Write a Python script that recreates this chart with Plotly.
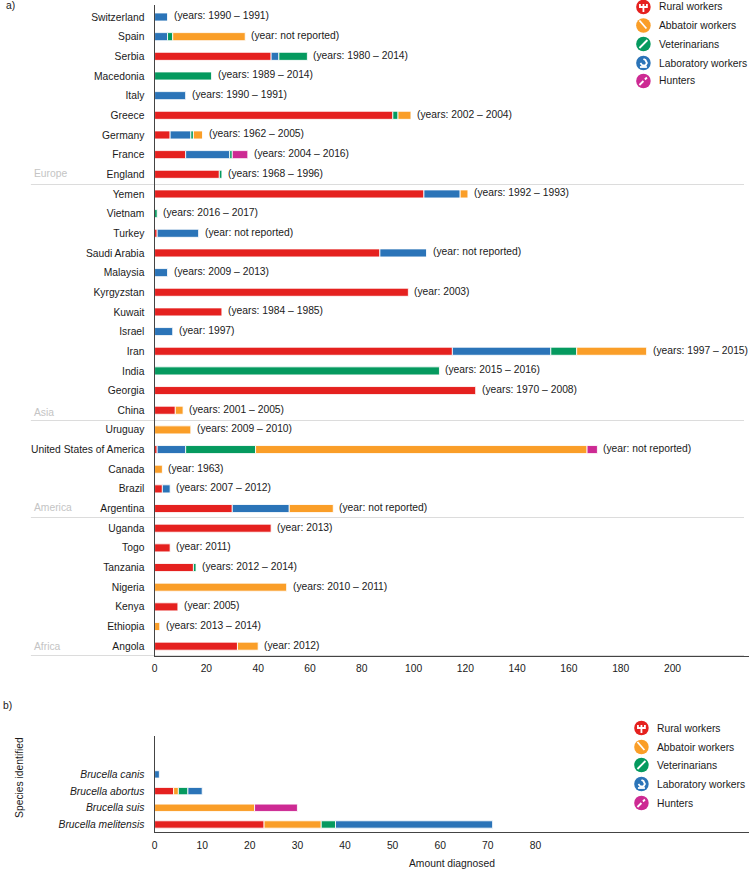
import plotly.graph_objects as go

W, H = 749, 870
FONT = "Liberation Sans"
TXT = "#1a1a1a"
FS = 10.3

series_names = ["Rural workers", "Abbatoir workers", "Veterinarians", "Laboratory workers", "Hunters"]
colors = {"Rural workers": "#e5211f", "Abbatoir workers": "#fa9e28", "Veterinarians": "#059a5f",
          "Laboratory workers": "#2b74b8", "Hunters": "#cd2a93"}

# Panel a, bottom to top
countries = ["Angola", "Ethiopia", "Kenya", "Nigeria", "Tanzania", "Togo", "Uganda",
             "Argentina", "Brazil", "Canada", "United States of America", "Uruguay",
             "China", "Georgia", "India", "Iran", "Israel", "Kuwait", "Kyrgyzstan", "Malaysia",
             "Saudi Arabia", "Turkey", "Vietnam", "Yemen",
             "England", "France", "Germany", "Greece", "Italy", "Macedonia", "Serbia", "Spain", "Switzerland"]
periods = ["(year: 2012)", "(years: 2013 – 2014)", "(year: 2005)", "(years: 2010 – 2011)", "(years: 2012 – 2014)",
           "(year: 2011)", "(year: 2013)",
           "(year: not reported)", "(years: 2007 – 2012)", "(year: 1963)", "(year: not reported)", "(years: 2009 – 2010)",
           "(years: 2001 – 2005)", "(years: 1970 – 2008)", "(years: 2015 – 2016)", "(years: 1997 – 2015)", "(year: 1997)",
           "(years: 1984 – 1985)", "(year: 2003)", "(years: 2009 – 2013)", "(year: not reported)", "(year: not reported)",
           "(years: 2016 – 2017)", "(years: 1992 – 1993)",
           "(years: 1968 – 1996)", "(years: 2004 – 2016)", "(years: 1962 – 2005)", "(years: 2002 – 2004)",
           "(years: 1990 – 1991)", "(years: 1989 – 2014)", "(years: 1980 – 2014)", "(year: not reported)", "(years: 1990 – 1991)"]
# Order of the segments differs by country, so each one lists (series, value)
segments_a = [
    [("Rural workers", 32), ("Abbatoir workers", 8)],
    [("Abbatoir workers", 2)],
    [("Rural workers", 9)],
    [("Abbatoir workers", 51)],
    [("Rural workers", 15), ("Veterinarians", 1)],
    [("Rural workers", 6)],
    [("Rural workers", 45)],
    [("Rural workers", 30), ("Laboratory workers", 22), ("Abbatoir workers", 17)],
    [("Rural workers", 3), ("Laboratory workers", 3)],
    [("Abbatoir workers", 3)],
    [("Rural workers", 1), ("Laboratory workers", 11), ("Veterinarians", 27), ("Abbatoir workers", 128), ("Hunters", 4)],
    [("Abbatoir workers", 14)],
    [("Rural workers", 8), ("Abbatoir workers", 3)],
    [("Rural workers", 124)],
    [("Veterinarians", 110)],
    [("Rural workers", 115), ("Laboratory workers", 38), ("Veterinarians", 10), ("Abbatoir workers", 27)],
    [("Laboratory workers", 7)],
    [("Rural workers", 26)],
    [("Rural workers", 98)],
    [("Laboratory workers", 5)],
    [("Rural workers", 87), ("Laboratory workers", 18)],
    [("Rural workers", 1), ("Laboratory workers", 16)],
    [("Veterinarians", 1)],
    [("Rural workers", 104), ("Laboratory workers", 14), ("Abbatoir workers", 3)],
    [("Rural workers", 25), ("Veterinarians", 1)],
    [("Rural workers", 12), ("Laboratory workers", 17), ("Veterinarians", 1), ("Hunters", 6)],
    [("Rural workers", 6), ("Laboratory workers", 8), ("Veterinarians", 1), ("Abbatoir workers", 3.5)],
    [("Rural workers", 92), ("Veterinarians", 2), ("Abbatoir workers", 5)],
    [("Laboratory workers", 12)],
    [("Veterinarians", 22)],
    [("Rural workers", 45), ("Laboratory workers", 3), ("Veterinarians", 11)],
    [("Laboratory workers", 5), ("Veterinarians", 2), ("Abbatoir workers", 28)],
    [("Laboratory workers", 5)],
]
ticks_a = [0, 20, 40, 60, 80, 100, 120, 140, 160, 180, 200]

# Panel b
species = ["Brucella melitensis", "Brucella suis", "Brucella abortus", "Brucella canis"]
segments_b = [
    [("Rural workers", 23), ("Abbatoir workers", 12), ("Veterinarians", 3), ("Laboratory workers", 33)],
    [("Abbatoir workers", 21), ("Hunters", 9)],
    [("Rural workers", 4), ("Abbatoir workers", 1), ("Veterinarians", 2), ("Laboratory workers", 3)],
    [("Laboratory workers", 1)],
]
ticks_b = [0, 10, 20, 30, 40, 50, 60, 70, 80]

regions = ["Europe", "Asia", "America", "Africa"]
region_label_y = [174, 412, 507, 646]
region_rule_y = [184.5, 420.5, 517.5, 655.5]


def px(x): return x / W
def py(y): return 1 - y / H


fig = go.Figure()


def add_bars(cats, segs, xa, ya, width):
    for cat, row in zip(cats, segs):
        base = 0
        for name, v in row:
            fig.add_trace(go.Bar(y=[cat], x=[v], base=[base], orientation="h", xaxis=xa, yaxis=ya,
                                 marker=dict(color=colors[name], line=dict(color="rgba(255,255,255,0.85)", width=1)),
                                 name=name, showlegend=False, width=width,
                                 hovertemplate=name + ": %{x}<extra>" + cat + "</extra>"))
            base += v


add_bars(countries, segments_a, "x", "y", 0.41)
add_bars(species, segments_b, "x2", "y2", 0.44)

annotations = []
for cat, row, label in zip(countries, segments_a, periods):
    total = sum(v for _, v in row)
    annotations.append(dict(x=total, y=cat, xref="x", yref="y", text=label, showarrow=False, xanchor="left",
                            xshift=4, yshift=1, font=dict(family=FONT, size=FS, color=TXT)))


def note(x, y, text, size=FS, color=TXT, anchor="left", angle=0):
    annotations.append(dict(x=px(x), y=py(y), xref="paper", yref="paper", text=text, showarrow=False,
                            xanchor=anchor, yanchor="middle", textangle=angle, xshift=0, yshift=0,
                            font=dict(family=FONT, size=size, color=color)))


note(1, 5, "a)")
note(-2, 705, "b)")
note(451, 863, "Amount diagnosed", anchor="center")
note(16, 777, "Species identified", anchor="center", angle=-90)

for r, ly in zip(regions, region_label_y):
    note(29, ly, r, FS, "#c4c4c4")

shapes = []
for ry in region_rule_y:
    shapes.append(dict(type="line", xref="paper", yref="paper", x0=px(28), x1=px(744), y0=py(ry), y1=py(ry),
                       line=dict(color="#dcdcdc", width=1), layer="below"))


def icon_path(cx, cy, pts):
    return "M" + " L".join("%.5f,%.5f" % (px(cx + a), py(cy + b)) for a, b in pts)


# Small white pictograms inside the legend discs, offsets in pixels from the disc centre
icons = {
    "Rural workers": [[(-3.5, -3), (-3.5, 0), (3.5, 0), (3.5, -3)], [(0, -3), (0, 5)]],
    "Abbatoir workers": [[(-4, -5), (3, 3)]],
    "Veterinarians": [[(-4, 4), (4, -4)]],
    "Laboratory workers": [[(-3, 0), (-1, 2.5), (2, 2.5), (3.5, 0), (2, -3), (0, -4)], [(-3.5, 4), (3.5, 4)]],
    "Hunters": [[(-4, 4), (0, 0)], [(1.5, -1.5), (3.5, -3.5)]],
}

for cx, tx, ys in ((643, 657, [7, 25.5, 44, 63, 81]), (641, 655, [728, 747, 765, 784, 803])):
    for name, cy in zip(series_names, ys):
        shapes.append(dict(type="circle", xref="paper", yref="paper", x0=px(cx - 7.3), x1=px(cx + 7.3),
                           y0=py(cy + 7.3), y1=py(cy - 7.3), fillcolor=colors[name], line=dict(width=0)))
        for pts in icons[name]:
            shapes.append(dict(type="path", xref="paper", yref="paper", path=icon_path(cx, cy, pts),
                               line=dict(color="white", width=1.8)))
        note(tx, cy, name)

axis_line = dict(showline=True, linecolor="#444444", linewidth=1.3, showgrid=False, zeroline=False)
tick_font = dict(family=FONT, size=FS, color=TXT)
X0 = 152.2
XL, XR = px(X0), 1.0

fig.update_layout(
    width=W, height=H, autosize=False, margin=dict(l=0, r=0, t=0, b=0),
    paper_bgcolor="white", plot_bgcolor="white", barmode="overlay", showlegend=False,
    font=dict(family=FONT, size=FS, color=TXT),
    annotations=annotations, shapes=shapes,
    xaxis=dict(domain=[XL, XR], range=[0, (W - X0) / 2.6], anchor="y", tickmode="array", tickvals=ticks_a,
               ticks="", tickfont=tick_font, ticklabelstandoff=2, **axis_line),
    yaxis=dict(domain=[py(656), py(5)], range=[-0.5, 32.61], anchor="x", type="category",
               categoryorder="array", categoryarray=countries, ticks="", ticklabelstandoff=7,
               tickfont=tick_font, **axis_line),
    xaxis2=dict(domain=[XL, XR], range=[0, (W - X0) / 4.78], anchor="y2", tickmode="array", tickvals=ticks_b,
                ticks="", tickfont=tick_font, ticklabelstandoff=3, **axis_line),
    yaxis2=dict(domain=[py(832), py(736)], range=[-0.45, 5.3], anchor="x2", type="category",
                categoryorder="array", categoryarray=species, tickmode="array", tickvals=species,
                ticktext=["<i>%s</i>" % s for s in species], ticks="", ticklabelstandoff=7,
                tickfont=tick_font, **axis_line),
)

fig.write_html("out.html", config={"displayModeBar": False},
               post_script="document.body.style.margin='0';document.documentElement.style.overflow='hidden';")
